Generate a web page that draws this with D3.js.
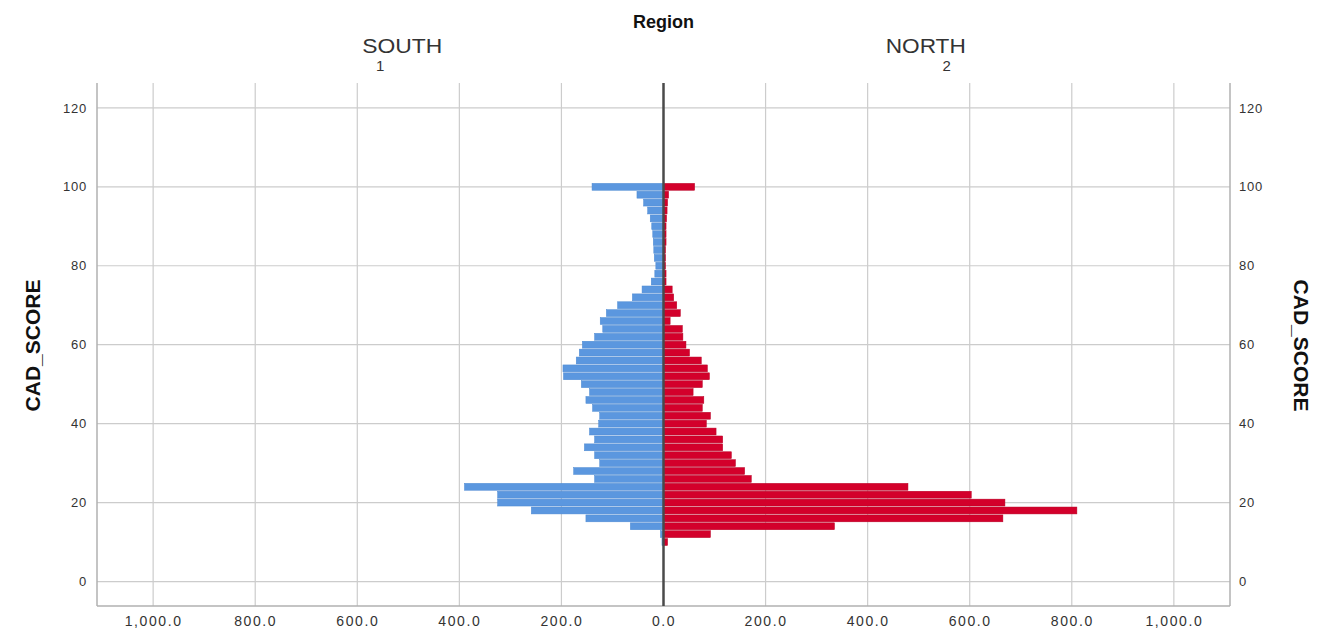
<!DOCTYPE html>
<html>
<head>
<meta charset="utf-8">
<script src="https://cdn.jsdelivr.net/npm/d3@7"></script>
<style>
  html, body { margin: 0; padding: 0; background: #fff; }
  svg { display: block; }
  text { font-family: "Liberation Sans", Arial, sans-serif; }
</style>
</head>
<body>
<svg id="chart" width="1326" height="640"></svg>
<script>
// CAD_SCORE bin centers (width 2)
const bins = [100,98,96,94,92,90,88,86,84,82,80,78,76,74,72,70,68,66,64,62,60,58,56,54,52,50,48,46,44,42,40,38,36,34,32,30,28,26,24,22,20,18,16,14,12,10];
// SOUTH (Region 1) frequencies
const south = [140,52,39,31,26,23,21,20,19,18,15,17,24,42,61,90,112,124,119,135,159,165,171,197,196,161,145,152,139,125,127,145,135,155,135,125,176,135,390,325,325,259,152,65,6,3];
// NORTH (Region 2) frequencies
const north = [61,10,8,7,6,5,5,5,4,4,4,5,5,17,20,26,33,13,37,38,44,51,74,86,90,76,58,79,76,92,84,103,116,116,133,141,159,172,479,603,669,810,665,335,92,8];
const xTicks = [-1000,-800,-600,-400,-200,0,200,400,600,800,1000];
const yTicks = [0,20,40,60,80,100,120];
const groups = [{name:"SOUTH", code:"1"}, {name:"NORTH", code:"2"}];

const svg = d3.select("#chart");
const L = 97, R = 1230, T = 83, B = 606;
const x = d3.scaleLinear().domain([-1110, 1110]).range([L, R]);
const y = d3.scaleLinear().domain([-6.2, 126.3]).range([B, T]);
const binW = 2;

// gridlines
const g = svg.append("g");
g.selectAll("line.vg").data(xTicks.filter(d => d !== 0)).enter().append("line")
  .attr("x1", d => x(d)).attr("x2", d => x(d)).attr("y1", T).attr("y2", B)
  .attr("stroke", "#cccccc").attr("stroke-width", 1.2);
g.selectAll("line.hg").data(yTicks).enter().append("line")
  .attr("x1", L).attr("x2", R).attr("y1", d => y(d)).attr("y2", d => y(d))
  .attr("stroke", "#cccccc").attr("stroke-width", 1.2);

// bars
const data = bins.map((b, i) => ({b, s: south[i], n: north[i]}));
const barG = svg.append("g");
barG.selectAll("rect.s").data(data).enter().append("rect")
  .attr("x", d => x(-d.s)).attr("width", d => x(0) - x(-d.s))
  .attr("y", d => y(d.b + binW/2) + 0.5)
  .attr("height", d => y(d.b - binW/2) - y(d.b + binW/2) - 1)
  .attr("fill", "#5b97df").attr("stroke", "#4d89d2").attr("stroke-width", 0.5);
barG.selectAll("rect.n").data(data).enter().append("rect")
  .attr("x", x(0)).attr("width", d => x(d.n) - x(0))
  .attr("y", d => y(d.b + binW/2) + 0.5)
  .attr("height", d => y(d.b - binW/2) - y(d.b + binW/2) - 1)
  .attr("fill", "#d3002b").attr("stroke", "#b80025").attr("stroke-width", 0.5);

// frame: left, right, bottom
const frame = svg.append("g").attr("stroke", "#b0b0b0").attr("stroke-width", 1.5);
frame.append("line").attr("x1", L).attr("x2", L).attr("y1", T).attr("y2", B);
frame.append("line").attr("x1", R).attr("x2", R).attr("y1", T).attr("y2", B);
frame.append("line").attr("x1", L).attr("x2", R).attr("y1", B).attr("y2", B);

// center line
svg.append("line").attr("x1", x(0)).attr("x2", x(0)).attr("y1", T).attr("y2", B)
  .attr("stroke", "#4a4a4a").attr("stroke-width", 2.5);

// x axis
const xAxis = d3.axisBottom(x).tickValues(xTicks).tickSize(0).tickPadding(10)
  .tickFormat(d => d3.format(",.1f")(Math.abs(d)));
const xa = svg.append("g").attr("transform", `translate(0,${B})`).call(xAxis);
xa.select(".domain").remove();
xa.selectAll("text").attr("font-size", 14).attr("fill", "#333").attr("letter-spacing", "1.6px");

// y axes
const yAxisL = d3.axisLeft(y).tickValues(yTicks).tickSize(0).tickPadding(10).tickFormat(d3.format("d"));
const yl = svg.append("g").attr("transform", `translate(${L},0)`).call(yAxisL);
yl.select(".domain").remove();
yl.selectAll("text").attr("font-size", 13).attr("fill", "#333").attr("letter-spacing", "0.8px");
const yAxisR = d3.axisRight(y).tickValues(yTicks).tickSize(0).tickPadding(9).tickFormat(d3.format("d"));
const yr = svg.append("g").attr("transform", `translate(${R},0)`).call(yAxisR);
yr.select(".domain").remove();
yr.selectAll("text").attr("font-size", 13).attr("fill", "#333").attr("letter-spacing", "0.8px");

// axis titles
svg.append("text").attr("transform", `translate(34,${(T+B)/2 + 1}) rotate(-90)`)
  .attr("text-anchor", "middle").attr("dominant-baseline", "middle")
  .attr("font-size", 21).attr("font-weight", "bold").attr("fill", "#111")
  .text("CAD_SCORE");
svg.append("text").attr("transform", `translate(1300,${(T+B)/2 + 1}) rotate(90)`)
  .attr("text-anchor", "middle").attr("dominant-baseline", "middle")
  .attr("font-size", 21).attr("font-weight", "bold").attr("fill", "#111")
  .text("CAD_SCORE");

// title and group headers
svg.append("text").attr("x", x(0)).attr("y", 28).attr("text-anchor", "middle")
  .attr("font-size", 18).attr("font-weight", "bold").attr("fill", "#111").text("Region");
const halfCenters = [(L + x(0)) / 2, (x(0) + R) / 2];
const nameOffset = [22, -21];
groups.forEach((gr, i) => {
  svg.append("text").attr("x", halfCenters[i] + nameOffset[i]).attr("y", 53).attr("text-anchor", "middle")
    .attr("font-size", 20).attr("fill", "#333").attr("textLength", 80)
    .attr("lengthAdjust", "spacingAndGlyphs").text(gr.name);
  svg.append("text").attr("x", halfCenters[i]).attr("y", 71).attr("text-anchor", "middle")
    .attr("font-size", 15).attr("fill", "#333").text(gr.code);
});
</script>
</body>
</html>
